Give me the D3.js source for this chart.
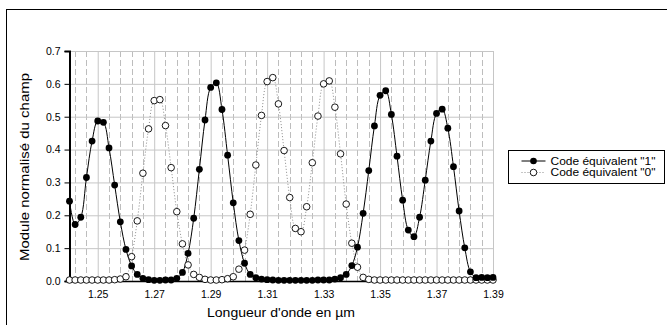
<!DOCTYPE html>
<html>
<head>
  <meta charset="utf-8">
  <title>Module normalisé du champ</title>
  <style>
    body { margin: 0; background: #fff; }
    svg { font-family: "Liberation Sans", Arial, sans-serif; }
    .tick text { font-size: 10.5px; fill: #000; }
  </style>
</head>
<body>
  <script src="https://d3js.org/d3.v7.min.js"></script>
  <script>
    // wavelengths (µm), one point every 0.002
    const wavelengths = [
      1.240, 1.242, 1.244, 1.246, 1.248, 1.250, 1.252, 1.254, 1.256, 1.258,
      1.260, 1.262, 1.264, 1.266, 1.268, 1.270, 1.272, 1.274, 1.276, 1.278,
      1.280, 1.282, 1.284, 1.286, 1.288, 1.290, 1.292, 1.294, 1.296, 1.298,
      1.300, 1.302, 1.304, 1.306, 1.308, 1.310, 1.312, 1.314, 1.316, 1.318,
      1.320, 1.322, 1.324, 1.326, 1.328, 1.330, 1.332, 1.334, 1.336, 1.338,
      1.340, 1.342, 1.344, 1.346, 1.348, 1.350, 1.352, 1.354, 1.356, 1.358,
      1.360, 1.362, 1.364, 1.366, 1.368, 1.370, 1.372, 1.374, 1.376, 1.378,
      1.380, 1.382, 1.384, 1.386, 1.388, 1.390
    ];

    // Code équivalent "1"
    const code1 = [
      0.243, 0.172, 0.194, 0.315, 0.426, 0.487, 0.483, 0.405, 0.292, 0.180,
      0.096, 0.046, 0.020, 0.008, 0.004, 0.002, 0.002, 0.003, 0.003, 0.008,
      0.026, 0.084, 0.191, 0.340, 0.490, 0.589, 0.603, 0.522, 0.383, 0.238,
      0.123, 0.054, 0.020, 0.010, 0.006, 0.004, 0.003, 0.002, 0.002, 0.002,
      0.002, 0.002, 0.002, 0.002, 0.003, 0.003, 0.003, 0.006, 0.010, 0.020,
      0.047, 0.103, 0.206, 0.336, 0.472, 0.565, 0.579, 0.507, 0.380, 0.246,
      0.155, 0.135, 0.194, 0.307, 0.426, 0.510, 0.523, 0.465, 0.348, 0.213,
      0.101, 0.028, 0.010, 0.011, 0.010, 0.011
    ];

    // Code équivalent "0"
    const code0 = [
      0.003, 0.003, 0.003, 0.003, 0.003, 0.003, 0.003, 0.003, 0.004, 0.006,
      0.013, 0.074, 0.183, 0.328, 0.463, 0.549, 0.552, 0.473, 0.345, 0.211,
      0.113, 0.049, 0.020, 0.011, 0.005, 0.003, 0.003, 0.004, 0.007, 0.013,
      0.036, 0.094, 0.203, 0.353, 0.504, 0.607, 0.619, 0.539, 0.397, 0.254,
      0.160, 0.150, 0.226, 0.360, 0.502, 0.600, 0.609, 0.529, 0.387, 0.234,
      0.115, 0.042, 0.011, 0.005, 0.003, 0.003, 0.003, 0.003, 0.003, 0.003,
      0.003, 0.003, 0.003, 0.003, 0.003, 0.003, 0.003, 0.003, 0.003, 0.003,
      0.003, 0.003, 0.003, 0.003, 0.003, 0.003
    ];

    const xTicks = [1.25, 1.27, 1.29, 1.31, 1.33, 1.35, 1.37, 1.39];
    const yTicks = [0, 0.1, 0.2, 0.3, 0.4, 0.5, 0.6, 0.7];
    const seriesNames = ['Code équivalent "1"', 'Code équivalent "0"'];

    const width = 667;
    const height = 325;
    const plot = { left: 69.5, right: 493, top: 51, bottom: 281 };

    const svg = d3.select("body")
      .append("svg")
      .attr("width", width)
      .attr("height", height);

    // outer frame of the chart
    svg.append("rect")
      .attr("x", 6.5)
      .attr("y", 9.5)
      .attr("width", 720)
      .attr("height", 400)
      .attr("fill", "none")
      .attr("stroke", "#000")
      .attr("stroke-width", 1);

    const x = d3.scaleLinear()
      .domain([1.24, 1.39])
      .range([plot.left, plot.right]);

    const y = d3.scaleLinear()
      .domain([0, 0.7])
      .range([plot.bottom, plot.top]);

    // minor (dashed) vertical gridlines every 0.004, offset from the labels
    const minor = d3.range(38)
      .map(k => 1.242 + 0.004 * k)
      .filter(v => !xTicks.some(t => Math.abs(t - v) < 1e-6));

    svg.append("g")
      .selectAll("line")
      .data(minor)
      .join("line")
      .attr("x1", d => Math.round(x(d)) + 0.5)
      .attr("x2", d => Math.round(x(d)) + 0.5)
      .attr("y1", plot.top)
      .attr("y2", plot.bottom)
      .attr("stroke", "#bdbdbd")
      .attr("stroke-dasharray", "6,3");

    // major vertical gridlines
    svg.append("g")
      .attr("transform", `translate(0,${plot.top})`)
      .call(d3.axisBottom(x).tickValues(xTicks).tickSize(plot.bottom - plot.top).tickFormat(""))
      .call(g => g.select(".domain").remove())
      .call(g => g.selectAll("line").attr("stroke", "#c6c6c6"));

    // horizontal gridlines
    svg.append("g")
      .attr("transform", `translate(${plot.right},0)`)
      .call(d3.axisLeft(y).tickValues(yTicks).tickSize(plot.right - plot.left).tickFormat(""))
      .call(g => g.select(".domain").remove())
      .call(g => g.selectAll("line").attr("stroke", "#c6c6c6"));

    // y axis
    svg.append("g")
      .attr("transform", `translate(${plot.left},0)`)
      .call(d3.axisLeft(y).tickValues(yTicks).tickSize(5).tickPadding(4).tickFormat(d3.format(".1f")))
      .call(g => g.select(".domain").attr("stroke-width", 2))
      .call(g => g.selectAll(".tick line").attr("stroke-width", 1));

    // x axis
    svg.append("g")
      .attr("transform", `translate(0,${plot.bottom})`)
      .call(d3.axisBottom(x).tickValues(xTicks).tickSize(0).tickPadding(10).tickFormat(d3.format(".2f")))
      .call(g => g.select(".domain").attr("stroke-width", 1.5));

    const pts1 = wavelengths.map((w, i) => [w, code1[i]]);
    const pts0 = wavelengths.map((w, i) => [w, code0[i]]);

    const line = d3.line()
      .x(d => x(d[0]))
      .y(d => y(d[1]))
      .curve(d3.curveCatmullRom.alpha(0.5));

    // series "0": dotted line, open markers
    svg.append("path")
      .datum(pts0)
      .attr("d", line)
      .attr("fill", "none")
      .attr("stroke", "#8c8c8c")
      .attr("stroke-width", 1)
      .attr("stroke-dasharray", "1,2");

    // series "1": solid line, filled markers
    svg.append("path")
      .datum(pts1)
      .attr("d", line)
      .attr("fill", "none")
      .attr("stroke", "#000")
      .attr("stroke-width", 1);

    svg.append("g")
      .selectAll("circle")
      .data(pts0)
      .join("circle")
      .attr("cx", d => x(d[0]))
      .attr("cy", d => y(d[1]))
      .attr("r", 3.3)
      .attr("fill", "#fff")
      .attr("stroke", "#000")
      .attr("stroke-width", 0.9);

    svg.append("g")
      .selectAll("circle")
      .data(pts1)
      .join("circle")
      .attr("cx", d => x(d[0]))
      .attr("cy", d => y(d[1]))
      .attr("r", 3.4)
      .attr("fill", "#000");

    // axis titles (the original text is a little stretched, hence textLength)
    svg.append("text")
      .attr("x", 281)
      .attr("y", 317)
      .attr("text-anchor", "middle")
      .attr("font-size", 13)
      .attr("textLength", 148)
      .attr("lengthAdjust", "spacingAndGlyphs")
      .text("Longueur d'onde en µm");

    svg.append("text")
      .attr("transform", `translate(29,167) rotate(-90)`)
      .attr("text-anchor", "middle")
      .attr("font-size", 12)
      .attr("textLength", 188)
      .attr("lengthAdjust", "spacingAndGlyphs")
      .text("Module normalisé du champ");

    // legend
    const legend = svg.append("g").attr("transform", "translate(508.5,150.5)");
    legend.append("rect")
      .attr("width", 156)
      .attr("height", 33)
      .attr("fill", "#fff")
      .attr("stroke", "#000");

    const rows = legend.selectAll("g.row")
      .data(seriesNames)
      .join("g")
      .attr("class", "row")
      .attr("transform", (d, i) => `translate(0,${10.5 + i * 11.5})`);

    rows.append("line")
      .attr("x1", 13)
      .attr("x2", 37)
      .attr("stroke", (d, i) => i === 0 ? "#000" : "#8c8c8c")
      .attr("stroke-dasharray", (d, i) => i === 0 ? null : "1,2");

    rows.append("circle")
      .attr("cx", 25)
      .attr("r", 3.3)
      .attr("fill", (d, i) => i === 0 ? "#000" : "#fff")
      .attr("stroke", "#000")
      .attr("stroke-width", (d, i) => i === 0 ? 0 : 0.9);

    rows.append("text")
      .attr("x", 42)
      .attr("dy", "0.35em")
      .attr("font-size", 11)
      .attr("textLength", 105)
      .attr("lengthAdjust", "spacingAndGlyphs")
      .text(d => d);
  </script>
</body>
</html>
